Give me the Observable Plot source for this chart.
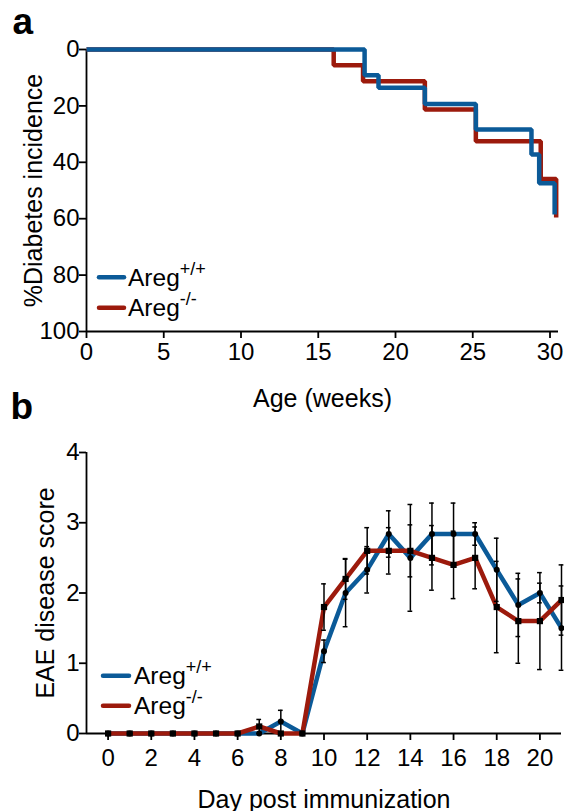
<!DOCTYPE html>
<html><head><meta charset="utf-8">
<script src="https://cdn.jsdelivr.net/npm/d3@7"></script>
<script src="https://cdn.jsdelivr.net/npm/@observablehq/plot@0.6"></script>
<style>
body{margin:0;background:white;}
#wrap{position:relative;width:564px;height:811px;overflow:hidden;background:white;}
#wrap svg{position:absolute;left:0;overflow:visible;}
</style></head><body><div id="wrap"></div>
<script>
const FONT = '"Liberation Sans", Arial, Helvetica, sans-serif';
const BLUE = "#0b5a98", RED = "#9c1a0c";

// ---- Panel a: Kaplan–Meier style diabetes incidence ----
const kmWeeksWT = [0, 18, 18.9, 21.9, 25.2, 28.8, 29.3, 30.3];
const kmPctWT   = [0, 9.1, 13.6, 19.3, 28.4, 37.2, 47.4, 58.5];
const kmWeeksKO = [0, 16, 17.9, 21.9, 25.2, 29.4, 30.4];
const kmPctKO   = [0, 5.6, 11.3, 21.3, 32.5, 45.9, 59.6];
const ageTicks  = [0, 5, 10, 15, 20, 25, 30];
const pctTicks  = [0, 20, 40, 60, 80, 100];

// ---- Panel b: EAE disease score ----
const days   = [0,1,2,3,4,5,6,7,8,9,10,11,12,13,14,15,16,17,18,19,20,21];
const wtMean = [0,0,0,0,0,0,0,0,0.17,0,1.17,2.0,2.33,2.84,2.5,2.84,2.84,2.84,2.33,1.83,2.0,1.5];
const wtSE   = [0,0,0,0,0,0,0,0,0.16,0,0.16,0.48,0.33,0.33,0.76,0.44,0.44,0.16,0.45,0.45,0.14,0.6];
const koMean = [0,0,0,0,0,0,0,0.1,0,0,1.8,2.2,2.6,2.6,2.6,2.5,2.4,2.5,1.8,1.6,1.6,1.9];
const koSE   = [0,0,0,0,0,0,0,0.1,0,0,0.33,0.29,0.33,0.33,0.37,0.46,0.48,0.44,0.65,0.6,0.69,0.5];
const dayTicks   = [0,2,4,6,8,10,12,14,16,18,20];
const scoreTicks = [0,1,2,3,4];

const legendNames = [["Areg", "+/+"], ["Areg", "-/-"]];

const rows = (xs, ys) => xs.map((x, i) => ({x, y: ys[i]}));
const errRows = (xs, m, se) => xs.map((x, i) => ({x, y: m[i], lo: m[i] - se[i], hi: m[i] + se[i], se: se[i]})).filter(d => d.se > 0);
const capRows = (er) => er.flatMap(d => [{x: d.x, v: d.lo}, {x: d.x, v: d.hi}]);
const fmt = d => String(d);

const baseStyle = {fontFamily: FONT, fontSize: "24px", color: "black", background: "transparent", overflow: "visible"};
const wrap = document.getElementById("wrap");

// Panel a
const plotA = Plot.plot({
  width: 564, height: 420,
  marginLeft: 86, marginRight: 6, marginTop: 49, marginBottom: 89,
  x: {domain: [0, 30.55]},
  y: {domain: [0, 100], reverse: true},
  style: baseStyle,
  marks: [
    Plot.axisY({ticks: pctTicks, tickFormat: fmt, tickSize: 7, tickPadding: 0, fontSize: 24, label: null, strokeWidth: 1.8}),
    Plot.axisX({ticks: ageTicks, tickFormat: fmt, tickSize: 7, tickPadding: 4, fontSize: 24, label: null, strokeWidth: 1.8}),
    Plot.ruleX([0], {stroke: "black", strokeWidth: 1.8}),
    Plot.ruleY([100], {stroke: "black", strokeWidth: 1.8}),
    Plot.line(rows(kmWeeksKO, kmPctKO), {x: "x", y: "y", curve: "step-after", stroke: RED, strokeWidth: 4.5, strokeLinejoin: "miter", strokeLinecap: "butt"}),
    Plot.line(rows(kmWeeksWT, kmPctWT), {x: "x", y: "y", curve: "step-after", stroke: BLUE, strokeWidth: 4.5, strokeLinejoin: "miter", strokeLinecap: "butt"}),
    Plot.text(["%Diabetes incidence"], {frameAnchor: "left", rotate: -90, dx: -45, textAnchor: "middle", lineAnchor: "bottom", fontSize: 25, fill: "black"}),
    Plot.text(["Age (weeks)"], {frameAnchor: "bottom", dy: 75, textAnchor: "middle", lineAnchor: "bottom", fontSize: 25, fill: "black"}),
    Plot.text(["a"], {frameAnchor: "top-left", dx: -74, dy: -16, lineAnchor: "bottom", textAnchor: "start", fontSize: 37, fontWeight: "bold", fill: "black"})
  ]
});
plotA.style.top = "0px";
wrap.appendChild(plotA);

// Panel b
const erWT = errRows(days, wtMean, wtSE), erKO = errRows(days, koMean, koSE);
const plotB = Plot.plot({
  width: 564, height: 391,
  marginLeft: 86, marginRight: 3, marginTop: 32, marginBottom: 78,
  x: {domain: [-1, 21]},
  y: {domain: [0, 4]},
  style: baseStyle,
  marks: [
    Plot.axisY({ticks: scoreTicks, tickFormat: fmt, tickSize: 7, tickPadding: 0, fontSize: 24, label: null, strokeWidth: 1.8}),
    Plot.axisX({ticks: dayTicks, tickFormat: fmt, tickSize: 7, tickPadding: 8, fontSize: 24, label: null, strokeWidth: 1.8}),
    Plot.ruleX([-1], {stroke: "black", strokeWidth: 1.8}),
    Plot.ruleY([0], {stroke: "black", strokeWidth: 1.8}),
    Plot.line(rows(days, wtMean), {x: "x", y: "y", stroke: BLUE, strokeWidth: 4.5}),
    Plot.line(rows(days, koMean), {x: "x", y: "y", stroke: RED, strokeWidth: 4.5}),
    Plot.ruleX(erWT.concat(erKO), {x: "x", y1: "lo", y2: "hi", stroke: "black", strokeWidth: 1.5}),
    Plot.ruleY(capRows(erWT.concat(erKO)), {y: "v", x1: d => d.x - 0.11, x2: d => d.x + 0.11, stroke: "black", strokeWidth: 1.5}),
    Plot.dot(rows(days, wtMean), {x: "x", y: "y", r: 3, fill: "black"}),
    Plot.dot(rows(days, koMean), {x: "x", y: "y", r: 3.5, symbol: "square", fill: "black"}),
    Plot.text(["EAE disease score"], {frameAnchor: "left", rotate: -90, dx: -33, textAnchor: "middle", lineAnchor: "bottom", fontSize: 25, fill: "black"}),
    Plot.text(["Day post immunization"], {frameAnchor: "bottom", dy: 74, textAnchor: "middle", lineAnchor: "bottom", fontSize: 25, fill: "black"}),
    Plot.text(["b"], {frameAnchor: "top-left", dx: -76, dy: -34, lineAnchor: "bottom", textAnchor: "start", fontSize: 37, fontWeight: "bold", fill: "black"})
  ]
});
plotB.style.top = "420px";
wrap.appendChild(plotB);

// Legends (with superscripts) appended into each SVG
function addLegend(svg, items) {
  const g = d3.select(svg).append("g")
    .attr("font-family", FONT).attr("fill", "black").attr("text-anchor", "start")
    .style("font-size", "24px");
  items.forEach(it => {
    g.append("line").attr("x1", it.x1).attr("x2", it.x2).attr("y1", it.ly).attr("y2", it.ly)
      .attr("stroke", it.color).attr("stroke-width", 4.5).attr("stroke-linecap", "round");
    const t = g.append("text").attr("x", it.tx).attr("y", it.ty).style("font-size", "24.5px");
    t.append("tspan").text(it.name[0]);
    t.append("tspan").attr("dy", -11).style("font-size", "18px").text(it.name[1]);
  });
}
addLegend(plotA, [
  {x1: 99, x2: 124, ly: 277.3, tx: 128, ty: 286, color: BLUE, name: legendNames[0]},
  {x1: 99, x2: 124, ly: 307.8, tx: 128, ty: 315.5, color: RED, name: legendNames[1]}
]);
addLegend(plotB, [
  {x1: 103, x2: 129, ly: 675.7 - 420, tx: 134, ty: 683.5 - 420, color: BLUE, name: legendNames[0]},
  {x1: 103, x2: 129, ly: 705.7 - 420, tx: 134, ty: 713.5 - 420, color: RED, name: legendNames[1]}
]);
</script></body></html>
